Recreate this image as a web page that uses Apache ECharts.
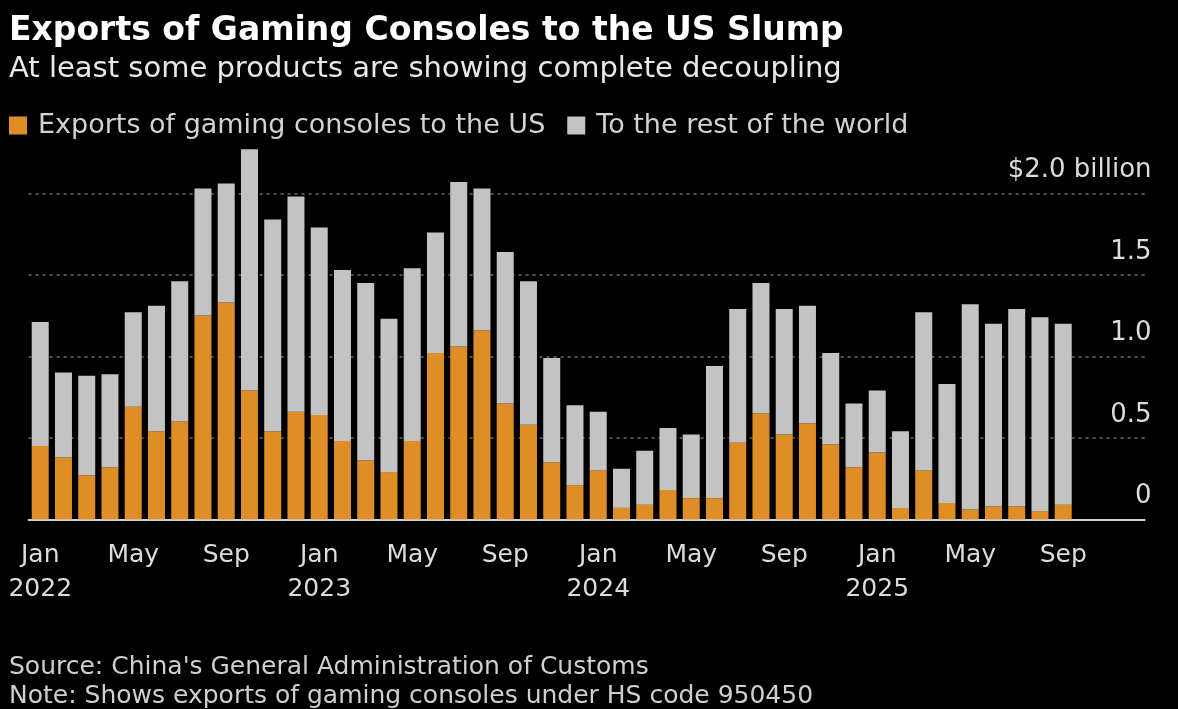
<!DOCTYPE html>
<html>
<head>
<meta charset="utf-8">
<title>Exports of Gaming Consoles to the US Slump</title>
<script src="https://cdn.jsdelivr.net/npm/echarts@6/dist/echarts.min.js"></script>
<style>
  html, body { margin: 0; padding: 0; background: #000; }
  #chart { width: 1178px; height: 709px; }
</style>
</head>
<body>
<div id="chart"></div>
<script>
// monthly, Jan 2022 .. Sep 2025, $ billion
const monthNames = ['Jan', 'Feb', 'Mar', 'Apr', 'May', 'Jun', 'Jul', 'Aug', 'Sep', 'Oct', 'Nov', 'Dec'];
const years = [2022, 2023, 2024, 2025];

const usExports = [
  0.45, 0.38, 0.27, 0.32, 0.69, 0.54, 0.60, 1.25, 1.33, 0.79, 0.54, 0.66,
  0.64, 0.48, 0.36, 0.29, 0.48, 1.02, 1.06, 1.16, 0.71, 0.58, 0.35, 0.21,
  0.30, 0.07, 0.09, 0.18, 0.13, 0.13, 0.47, 0.65, 0.52, 0.59, 0.46, 0.32,
  0.41, 0.07, 0.30, 0.10, 0.06, 0.08, 0.08, 0.05, 0.09
];
const restOfWorld = [
  0.76, 0.52, 0.61, 0.57, 0.58, 0.77, 0.86, 0.78, 0.73, 1.48, 1.30, 1.32,
  1.15, 1.05, 1.09, 0.94, 1.06, 0.74, 1.01, 0.87, 0.93, 0.88, 0.64, 0.49,
  0.36, 0.24, 0.33, 0.38, 0.39, 0.81, 0.82, 0.80, 0.77, 0.72, 0.56, 0.39,
  0.38, 0.47, 0.97, 0.73, 1.26, 1.12, 1.21, 1.19, 1.11
];
const yTicks = [0, 0.5, 1.0, 1.5, 2.0];

// axis runs through the end of 2025, the last months have no data yet
const months = [];
years.forEach(y => monthNames.forEach(m => months.push(m + ' ' + y)));

const chart = echarts.init(document.getElementById('chart'));
const font = 'DejaVu Sans';

const option = {
  backgroundColor: '#000',
  animation: false,
  textStyle: { fontFamily: font },
  title: [
    { text: 'Exports of Gaming Consoles to the US Slump', left: 4, top: 10,
      textStyle: { color: '#fff', fontSize: 33, fontWeight: 'bold', fontFamily: font } },
    { text: 'At least some products are showing complete decoupling', left: 4, top: 50,
      textStyle: { color: '#e8e8e8', fontSize: 29, fontWeight: 'normal', fontFamily: font } },
    { text: "Source: China's General Administration of Customs", left: 4, top: 650,
      textStyle: { color: '#cfcfcf', fontSize: 25, fontWeight: 'normal', fontFamily: font } },
    { text: 'Note: Shows exports of gaming consoles under HS code 950450', left: 4, top: 679,
      textStyle: { color: '#cfcfcf', fontSize: 25, fontWeight: 'normal', fontFamily: font } }
  ],
  legend: {
    left: 4, top: 107,
    icon: 'rect', itemWidth: 18, itemHeight: 18, itemGap: 22,
    textStyle: { color: '#d2d2d2', fontSize: 27, fontFamily: font, padding: [0, 0, 0, 6] },
    selectedMode: false
  },
  grid: { left: 28.6, top: 193.3, width: 48 * 23.25, height: 326, containLabel: false },
  xAxis: {
    type: 'category',
    data: months,
    axisLine: { lineStyle: { color: '#cfcfcf', width: 2 } },
    axisTick: { alignWithLabel: true, interval: i => i % 4 === 0, length: 10,
      lineStyle: { color: '#bdbdbd', width: 2 } },
    axisLabel: {
      interval: i => i % 4 === 0,
      color: '#dcdcdc', fontSize: 25, lineHeight: 34, margin: 19, fontFamily: font,
      formatter: v => {
        const [m, y] = v.split(' ');
        return m === 'Jan' ? m + '\n' + y : m;
      }
    }
  },
  yAxis: {
    type: 'value',
    position: 'right',
    offset: 7,
    min: 0, max: 2, interval: 0.5,
    axisLine: { show: false },
    axisTick: { show: false },
    splitLine: { lineStyle: { color: '#6c6c6c', type: [3, 4], width: 1.5 } },
    axisLabel: {
      inside: true, margin: 0, verticalAlign: 'bottom', padding: [0, 0, 10, 0],
      color: '#dcdcdc', fontSize: 26, fontFamily: font,
      formatter: v => {
        if (!yTicks.includes(v)) return '';
        if (v === 0) return '0';
        if (v === 2) return '$2.0 billion';
        return v.toFixed(1);
      }
    }
  },
  series: [
    { name: 'Exports of gaming consoles to the US', type: 'bar', stack: 'total',
      data: usExports, barWidth: 17, clip: false,
      itemStyle: { color: '#df8d27' } },
    { name: 'To the rest of the world', type: 'bar', stack: 'total',
      data: restOfWorld, barWidth: 17, clip: false,
      itemStyle: { color: '#c3c3c3' } }
  ]
};

chart.setOption(option);
</script>
</body>
</html>
